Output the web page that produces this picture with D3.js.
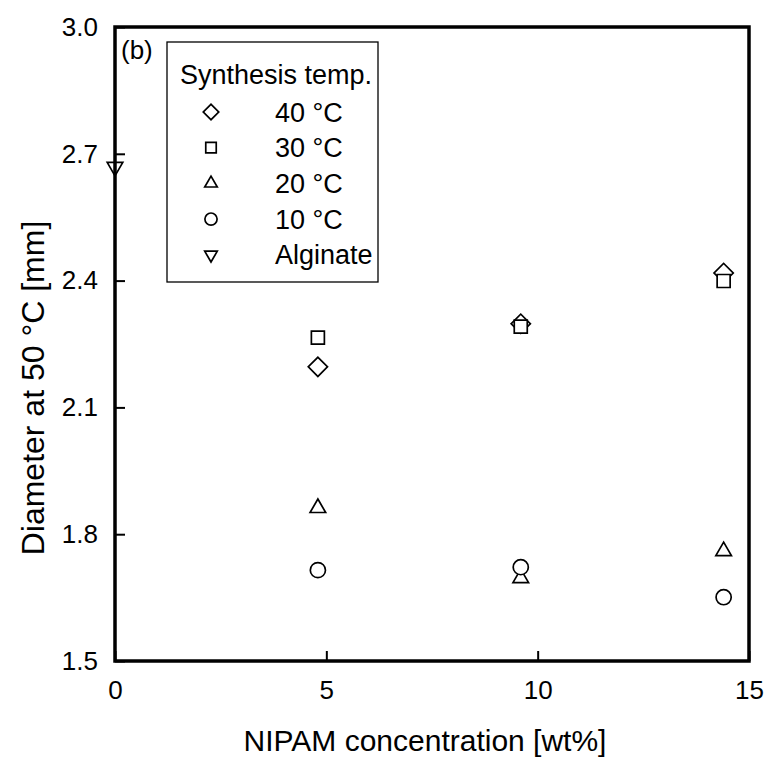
<!DOCTYPE html>
<html>
<head>
<meta charset="utf-8">
<script src="https://cdn.jsdelivr.net/npm/d3@7"></script>
<style>
  body { margin: 0; background: #fff; }
  svg text { font-family: "Liberation Sans", Arial, sans-serif; fill: #000; }
</style>
</head>
<body>
<svg id="chart" width="771" height="760"></svg>
<script>
// ---- data ----
const concentrations = [4.8, 9.6, 14.4];
const diam40 = [2.196, 2.298, 2.418];
const diam30 = [2.265, 2.291, 2.399];
const diam20 = [1.862, 1.696, 1.760];
const diam10 = [1.715, 1.722, 1.651];
const alginateX = [0];
const alginateY = [2.669];
const xTicks = [0, 5, 10, 15];
const yTicks = [1.5, 1.8, 2.1, 2.4, 2.7, 3.0];
const legendLabels = ["40 °C", "30 °C", "20 °C", "10 °C", "Alginate"];
const legendTitle = "Synthesis temp.";
const panelLabel = "(b)";
const xTitle = "NIPAM concentration [wt%]";
const yTitle = "Diameter at 50 °C [mm]";

// ---- layout ----
const mLeft = 115, mRight = 749, mTop = 27, mBottom = 661;
const svg = d3.select("#chart");

const x = d3.scaleLinear().domain([0, 15]).range([mLeft, mRight]);
const y = d3.scaleLinear().domain([1.5, 3.0]).range([mBottom, mTop]);

const shapes = {
  diamond: {type: d3.symbolSquare, size: 185, rot: 45},
  square: {type: d3.symbolSquare, size: 169, rot: 0},
  triangle: {type: d3.symbolTriangle, size: 105, rot: 0},
  circle: {type: d3.symbolCircle, size: 180, rot: 0},
  tridown: {type: d3.symbolTriangle, size: 105, rot: 180}
};
const seriesShapes = ["diamond", "square", "triangle", "circle", "tridown"];

function marker(g, shapeName, cx, cy, scale) {
  const s = shapes[shapeName];
  g.append("path")
    .attr("d", d3.symbol().type(s.type).size(s.size * (scale || 1))())
    .attr("transform", `translate(${cx},${cy}) rotate(${s.rot})`)
    .attr("fill", "#fff")
    .attr("stroke", "#000")
    .attr("stroke-width", 1.7);
}

// axes ticks (inward)
const xAxis = d3.axisBottom(x).tickValues(xTicks).tickSize(-10).tickPadding(20).tickFormat(d3.format("d"));
const yAxis = d3.axisLeft(y).tickValues(yTicks).tickSize(-10).tickPadding(17).tickFormat(d3.format(".1f"));

const gx = svg.append("g").attr("transform", `translate(0,${mBottom})`).call(xAxis);
const gy = svg.append("g").attr("transform", `translate(${mLeft},0)`).call(yAxis);
[gx, gy].forEach(g => {
  g.select(".domain").remove();
  g.selectAll(".tick line").attr("stroke", "#000").attr("stroke-width", 2);
  g.selectAll(".tick text").attr("font-size", 26).attr("font-family", "Liberation Sans, Arial, sans-serif");
});

// data points
const plotG = svg.append("g");
const allSeries = [diam40, diam30, diam20, diam10];
allSeries.forEach((vals, i) => {
  vals.forEach((v, j) => marker(plotG, seriesShapes[i], x(concentrations[j]), y(v)));
});
alginateX.forEach((v, j) => marker(plotG, "tridown", x(v), y(alginateY[j])));

// frame
svg.append("rect")
  .attr("x", mLeft).attr("y", mTop)
  .attr("width", mRight - mLeft).attr("height", mBottom - mTop)
  .attr("fill", "none").attr("stroke", "#000").attr("stroke-width", 3.5);

// panel label
svg.append("text").attr("x", 121).attr("y", 59).attr("font-size", 26).text(panelLabel);

// legend
const lg = svg.append("g");
lg.append("rect").attr("x", 167).attr("y", 42).attr("width", 211).attr("height", 240)
  .attr("fill", "#fff").attr("stroke", "#000").attr("stroke-width", 1.3);
lg.append("text").attr("x", 180).attr("y", 84).attr("font-size", 27).text(legendTitle);
legendLabels.forEach((lab, i) => {
  const cy = 112 + i * 35.7;
  marker(lg, seriesShapes[i], 211, cy, 0.65);
  lg.append("text").attr("x", 275).attr("y", cy + 9.5).attr("font-size", 27).text(lab);
});

// axis titles
svg.append("text").attr("x", 425).attr("y", 751)
  .attr("text-anchor", "middle").attr("font-size", 30).text(xTitle);
svg.append("text").attr("transform", `translate(44,388) rotate(-90)`)
  .attr("text-anchor", "middle").attr("font-size", 32).text(yTitle);
</script>
</body>
</html>
